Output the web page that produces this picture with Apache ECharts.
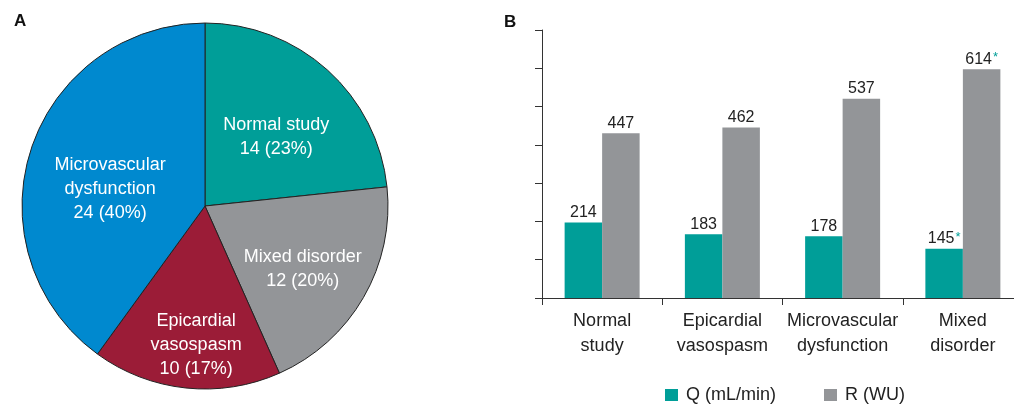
<!DOCTYPE html>
<html>
<head>
<meta charset="utf-8">
<script src="https://cdn.jsdelivr.net/npm/echarts@6/dist/echarts.min.js"></script>
<style>
  html, body { margin: 0; padding: 0; background: #fff; }
  #chart { width: 1014px; height: 404px; }
</style>
</head>
<body>
<div id="chart"></div>
<script>
// Panel A: patients by diagnosis (count)
const pieNames = ['Normal study', 'Mixed disorder', 'Epicardial\nvasospasm', 'Microvascular\ndysfunction'];
const pieCounts = [14, 12, 10, 24];

// Panel B: flow (Q) and resistance (R) by diagnosis
const barCategories = ['Normal\nstudy', 'Epicardial\nvasospasm', 'Microvascular\ndysfunction', 'Mixed\ndisorder'];
const qValues = [214, 183, 178, 145];
const rValues = [447, 462, 537, 614];
const significant = [false, false, false, true];

const TEAL = '#009e98';
const GREY = '#939598';
const RED = '#9b1c37';
const BLUE = '#0089cf';
const FONT = '"Liberation Sans", Arial, Helvetica, sans-serif';

const pieColors = [TEAL, GREY, RED, BLUE];
// label nudges from the default inside position, per slice
const pieLabelShift = [[8, 1], [16, 16], [1, 45], [-5, 12]];

const chart = echarts.init(document.getElementById('chart'), null, { renderer: 'canvas' });

function barLabel(p) {
  const v = '{v|' + p.value + '}';
  return significant[p.dataIndex] ? v + '{s|*}' : v;
}

const barLabelStyle = {
  show: true,
  position: 'top',
  distance: 2,
  formatter: barLabel,
  rich: {
    v: { fontSize: 16, color: '#222', fontFamily: FONT },
    s: { fontSize: 13, color: TEAL, fontFamily: FONT, verticalAlign: 'top', padding: [0, 0, 0, 1] }
  }
};

const option = {
  animation: false,
  textStyle: { fontFamily: FONT },
  title: [
    { text: 'A', left: 9, top: 8, textStyle: { fontSize: 17, fontWeight: 'bold', color: '#111', fontFamily: FONT } },
    { text: 'B', left: 499, top: 9, textStyle: { fontSize: 17, fontWeight: 'bold', color: '#111', fontFamily: FONT } }
  ],
  legend: {
    data: ['Q (mL/min)', 'R (WU)'],
    left: 660,
    top: 381,
    icon: 'rect',
    itemWidth: 13,
    itemHeight: 12,
    itemGap: 48,
    textStyle: { fontSize: 18, color: '#222', fontFamily: FONT, padding: [0, 0, 0, 3] }
  },
  grid: { left: 542, top: 30, width: 481, bottom: 106, outerBoundsMode: 'none', containLabel: false },
  xAxis: {
    type: 'category',
    data: barCategories,
    axisLine: { lineStyle: { color: '#333', width: 1 } },
    axisTick: { show: true, interval: 0, length: 7, lineStyle: { color: '#333' } },
    axisLabel: { interval: 0, fontSize: 18, lineHeight: 25, color: '#222', margin: 11, fontFamily: FONT }
  },
  yAxis: [
    {
      // value scale for the bars
      type: 'value',
      min: 16.5,
      max: 716.5,
      show: false
    },
    {
      // visible axis with 100-unit ticks
      type: 'value',
      min: 0,
      max: 700,
      interval: 100,
      position: 'left',
      axisLine: { show: true, lineStyle: { color: '#333', width: 1 } },
      axisTick: { show: true, length: 7, lineStyle: { color: '#333' } },
      axisLabel: { show: false },
      splitLine: { show: false }
    }
  ],
  series: [
    {
      name: 'Q (mL/min)',
      type: 'bar',
      yAxisIndex: 0,
      data: qValues,
      barWidth: 37.5,
      barGap: '0%',
      itemStyle: { color: TEAL },
      label: barLabelStyle
    },
    {
      name: 'R (WU)',
      type: 'bar',
      yAxisIndex: 0,
      data: rValues,
      barWidth: 37.5,
      barGap: '0%',
      itemStyle: { color: GREY },
      label: barLabelStyle
    },
    {
      name: 'Diagnosis',
      type: 'pie',
      center: [205, 206],
      radius: [0, 183],
      startAngle: 90,
      clockwise: true,
      percentPrecision: 0,
      avoidLabelOverlap: false,
      itemStyle: { borderColor: '#222', borderWidth: 1 },
      label: {
        show: true,
        position: 'inside',
        formatter: '{b}\n{c} ({d}%)',
        color: '#fff',
        fontSize: 18,
        lineHeight: 24,
        fontFamily: FONT,
        align: 'center'
      },
      labelLine: { show: false },
      labelLayout: function (p) {
        const s = pieLabelShift[p.dataIndex];
        return { dx: s[0], dy: s[1] };
      },
      emphasis: { disabled: true },
      data: pieNames.map((n, i) => ({ name: n, value: pieCounts[i], itemStyle: { color: pieColors[i] } }))
    }
  ]
};

chart.setOption(option);
</script>
</body>
</html>
